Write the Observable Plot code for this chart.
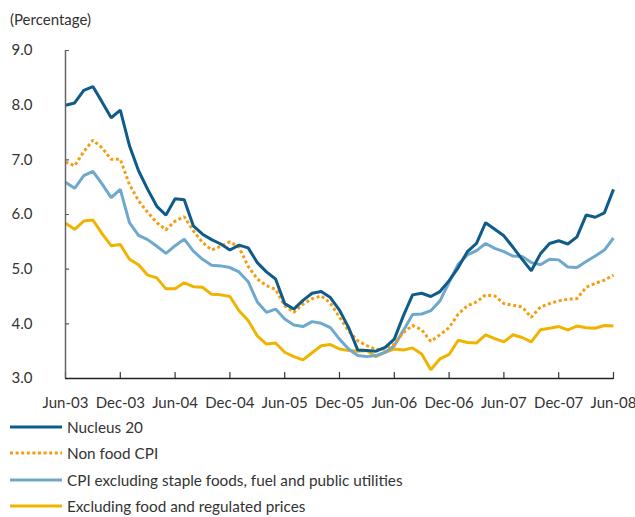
<!DOCTYPE html>
<html><head><meta charset="utf-8">
<script src="https://cdn.jsdelivr.net/npm/d3@7"></script>
<script src="https://cdn.jsdelivr.net/npm/@observablehq/plot@0.6"></script>
<style>
body{margin:0;background:#fff;font-family:Lato,"Open Sans",sans-serif;color:#333;}
#title{height:36px;font-size:15px;line-height:38px;padding-left:10px;box-sizing:border-box;}
#chart svg{display:block;}
.row{height:26.3px;display:flex;align-items:center;font-size:15.3px;}
.row svg{margin-left:10px;margin-right:5px;}
</style></head><body>
<div id="title">(Percentage)</div>
<div id="chart"></div>
<div id="legend"></div>
<script>
const tickLabels = ["Jun-03","Dec-03","Jun-04","Dec-04","Jun-05","Dec-05","Jun-06","Dec-06","Jun-07","Dec-07","Jun-08"];
const yTicks = [3,4,5,6,7,8,9];
const seriesNames = ["Nucleus 20","Non food CPI","CPI excluding staple foods, fuel and public utilities","Excluding food and regulated prices"];
const seriesColors = ["#0f5c8a","#f59d12","#6ea9cd","#f0b400"];
// monthly values, Jun-03 .. Jun-08
const nucleus20 = [8.00,8.04,8.27,8.34,8.06,7.77,7.91,7.26,6.80,6.46,6.15,5.99,6.29,6.27,5.79,5.64,5.54,5.46,5.35,5.44,5.39,5.12,4.95,4.82,4.37,4.27,4.43,4.56,4.59,4.48,4.25,3.93,3.52,3.51,3.50,3.57,3.72,4.15,4.53,4.56,4.50,4.59,4.79,5.03,5.32,5.47,5.85,5.73,5.61,5.40,5.18,4.97,5.28,5.47,5.52,5.46,5.59,5.99,5.95,6.03,6.46];
const nonFoodCPI = [6.96,6.89,7.15,7.36,7.22,7.01,7.01,6.55,6.25,6.04,5.85,5.72,5.88,5.96,5.70,5.49,5.35,5.42,5.50,5.40,5.05,4.82,4.70,4.63,4.33,4.21,4.36,4.46,4.51,4.38,4.12,3.87,3.69,3.60,3.53,3.54,3.63,3.84,3.97,3.89,3.68,3.80,3.93,4.18,4.33,4.40,4.53,4.51,4.37,4.34,4.31,4.12,4.31,4.37,4.42,4.45,4.46,4.67,4.74,4.80,4.89];
const cpiExclStaple = [6.59,6.48,6.71,6.79,6.56,6.31,6.46,5.85,5.62,5.54,5.42,5.29,5.43,5.55,5.33,5.18,5.07,5.06,5.03,4.95,4.77,4.40,4.21,4.27,4.09,3.98,3.95,4.04,4.01,3.93,3.72,3.54,3.42,3.40,3.42,3.48,3.60,3.88,4.17,4.18,4.24,4.42,4.76,5.09,5.26,5.34,5.47,5.38,5.32,5.24,5.23,5.12,5.08,5.18,5.17,5.04,5.03,5.14,5.24,5.35,5.57];
const exclFoodRegulated = [5.84,5.73,5.88,5.90,5.65,5.43,5.45,5.18,5.08,4.89,4.84,4.64,4.64,4.75,4.68,4.67,4.54,4.53,4.50,4.24,4.06,3.78,3.63,3.65,3.48,3.40,3.34,3.47,3.60,3.62,3.54,3.51,3.50,3.51,3.40,3.48,3.54,3.52,3.56,3.45,3.16,3.36,3.44,3.70,3.66,3.65,3.80,3.73,3.67,3.80,3.75,3.67,3.89,3.92,3.95,3.89,3.96,3.93,3.92,3.97,3.96];

const allSeries = [nucleus20, nonFoodCPI, cpiExclStaple, exclFoodRegulated];
const rows = [];
allSeries.forEach((vals, s) => vals.forEach((v, i) => rows.push({series: seriesNames[s], i, v})));
const xTicks = tickLabels.map((_, k) => k * 6);
const dash = [null, "3,2.6", null, null];
const tickShape = {draw(context, l) { context.moveTo(0, 0); context.lineTo(0, -l); }};

const plot = Plot.plot({
  width: 635, height: 378,
  marginLeft: 65, marginRight: 22, marginTop: 14, marginBottom: 36,
  style: {fontFamily: "Lato, 'Open Sans', sans-serif", fontSize: "15px", color: "#333", background: "#fff"},
  x: {domain: [0, 60]},
  y: {domain: [3, 9]},
  marks: [
    Plot.axisY({ticks: yTicks, tickSize: 0, tickPadding: 33, tickFormat: d => d.toFixed(1), label: null}),
    Plot.axisX({ticks: xTicks, tickSize: 0, tickPadding: 19, tickFormat: i => tickLabels[i / 6], label: null}),
    // inward tick marks
    Plot.vector(xTicks, {x: d => d, y: yTicks[0], length: 6, rotate: 0, anchor: "start", shape: tickShape, stroke: "#333", strokeWidth: 1.2}),
    Plot.vector(yTicks, {x: xTicks[0], y: d => d, length: 3, rotate: 90, anchor: "start", shape: tickShape, stroke: "#555", strokeWidth: 1.2}),
    ...allSeries.map((vals, s) => Plot.line(rows.filter(r => r.series === seriesNames[s]), {
      x: "i", y: "v", stroke: seriesColors[s], strokeWidth: 3,
      strokeDasharray: dash[s] || undefined, strokeLinejoin: "miter", strokeLinecap: "butt"
    })).reverse(),
    Plot.ruleX([xTicks[0]], {stroke: "#666", strokeWidth: 1.5}),
    Plot.ruleY([yTicks[0]], {stroke: "#222", strokeWidth: 1.5})
  ]
});
document.getElementById("chart").appendChild(plot);

const legend = document.getElementById("legend");
seriesNames.forEach((name, s) => {
  const row = document.createElement("div");
  row.className = "row";
  row.innerHTML = `<svg width="52" height="6"><line x1="0" x2="52" y1="3" y2="3" stroke="${seriesColors[s]}" stroke-width="3" ${dash[s] ? `stroke-dasharray="${dash[s]}"` : ""}/></svg><span>${name}</span>`;
  legend.appendChild(row);
});
</script>
</body></html>
